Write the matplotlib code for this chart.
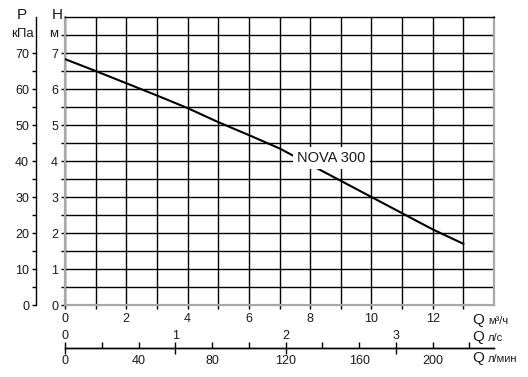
import matplotlib
matplotlib.use('Agg')
import matplotlib.pyplot as plt
from matplotlib.ticker import FixedLocator, FuncFormatter

plt.rcParams['font.family'] = ['Liberation Sans', 'DejaVu Sans']

# ---- data ----
q_m3h = [0, 1, 2, 3, 4, 5, 6, 7, 8, 9, 10, 11, 12, 13]
head_m = [6.83, 6.5, 6.16, 5.82, 5.47, 5.08, 4.72, 4.35, 3.9, 3.45, 3.0, 2.55, 2.1, 1.7]
curve_label = 'NOVA 300'
p_ticks = [0, 10, 20, 30, 40, 50, 60, 70]
p_minor = [5, 15, 25, 35, 45, 55, 65]
h_ticks = [0, 1, 2, 3, 4, 5, 6, 7]
q_m3h_ticks = [0, 2, 4, 6, 8, 10, 12]
q_ls_ticks = [0, 1, 2, 3]
q_lmin_ticks = [0, 40, 80, 120, 160, 200]

TXT = '#1a1a1a'
SPINE = '#a8a8a8'
FS = 9

W, H = 528, 377
fig = plt.figure(figsize=(W / 100, H / 100), dpi=100)
L, R, T, B = 65, 494, 17, 305
ax = fig.add_axes([L / W, 1 - B / H, (R - L) / W, (B - T) / H])
ax.set_xlim(0, 14)
ax.set_ylim(0, 8)

# grid
ax.xaxis.set_major_locator(FixedLocator(range(0, 14)))
ax.yaxis.set_major_locator(FixedLocator([i * 0.5 for i in range(16)]))
ax.xaxis.set_major_formatter(FuncFormatter(lambda v, p: f'{int(round(v))}' if round(v) in q_m3h_ticks and abs(v - round(v)) < 1e-6 else ''))
ax.yaxis.set_major_formatter(FuncFormatter(lambda v, p: f'{int(round(v))}' if abs(v - round(v)) < 1e-6 and round(v) in h_ticks else ''))
ax.grid(True, color='black', linewidth=1.0)
ax.tick_params(axis='x', direction='out', length=3, width=1.0, colors='black', labelcolor=TXT, labelsize=FS, pad=3)
ax.tick_params(axis='y', direction='out', length=3, width=1.0, colors='black', labelcolor=TXT, labelsize=FS, pad=2)
for s in ['left', 'right', 'bottom']:
    ax.spines[s].set_color(SPINE)
    ax.spines[s].set_linewidth(1.6)
ax.spines['top'].set_color('black')
ax.spines['top'].set_linewidth(1.0)

# curve
ax.plot(q_m3h, head_m, color='black', linewidth=1.5, zorder=3)
ax.text(8.69, 4.08, curve_label, fontsize=10.5, color=TXT, ha='center', va='center', zorder=4,
        bbox=dict(facecolor='white', edgecolor='none', pad=3))

# P axis (kPa)
axp = ax.secondary_yaxis(-(L - 36) / (R - L), functions=(lambda h: h * 10, lambda p: p / 10))
axp.yaxis.set_major_locator(FixedLocator(p_ticks))
axp.yaxis.set_minor_locator(FixedLocator(p_minor))
axp.tick_params(which='both', direction='out', length=3, width=1.0, colors='black', labelcolor=TXT, labelsize=FS, pad=2)
axp.spines['left'].set_color('black')
axp.spines['left'].set_linewidth(1.0)

# l/min axis
loc = -(348 - B) / (B - T)
axl = ax.secondary_xaxis(loc, functions=(lambda q: q * 1000 / 60, lambda l: l * 60 / 1000))
axl.xaxis.set_major_locator(FixedLocator(list(range(0, 221, 20))))
axl.xaxis.set_major_formatter(FuncFormatter(lambda v, p: f'{int(round(v))}' if round(v) in q_lmin_ticks else ''))
axl.tick_params(direction='in', length=4, width=1.0, colors='black', labelcolor=TXT, labelsize=FS, pad=5)
axl.spines['bottom'].set_color('black')
axl.spines['bottom'].set_linewidth(1.0)

# l/s axis
axs = ax.secondary_xaxis(loc, functions=(lambda q: q / 3.6, lambda s: s * 3.6))
axs.set_alignment('top')
axs.xaxis.set_major_locator(FixedLocator(q_ls_ticks))
axs.xaxis.set_major_formatter(FuncFormatter(lambda v, p: f'{int(round(v))}'))
axs.tick_params(direction='in', length=4, width=1.0, colors='black', labelcolor=TXT, labelsize=FS, pad=4)
axs.spines['top'].set_color('black')
axs.spines['top'].set_linewidth(1.0)

# axis titles
def ftxt(x, y, s, size, **kw):
    fig.text(x / W, 1 - y / H, s, fontsize=size, color=TXT, **kw)

ftxt(22, 15, 'P', 11, ha='center', va='center')
ftxt(22, 34, 'кПа', 9.5, ha='center', va='center')
ftxt(57, 15, 'H', 11, ha='center', va='center')
ftxt(54, 34, 'м', 9.5, ha='center', va='center')

for y, unit in [(320, 'м³/ч'), (337, 'л/с'), (358, 'л/мин')]:
    ftxt(472, y, 'Q', 11, ha='left', va='center')
    ftxt(488, y + 1, unit, 8, ha='left', va='center')

fig.savefig('out.png', dpi=100)
